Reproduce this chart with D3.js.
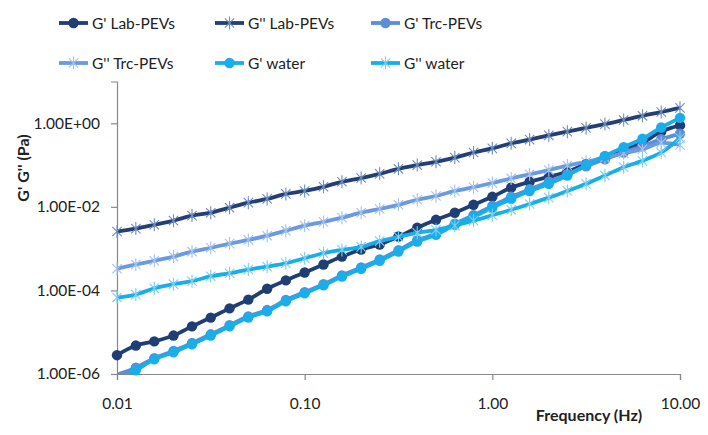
<!DOCTYPE html>
<html><head><meta charset="utf-8">
<script src="https://cdn.jsdelivr.net/npm/d3@7"></script>
<style>
html,body{margin:0;padding:0;background:#fff;}
svg{display:block;font-family:Lato,"Open Sans",sans-serif;}
</style></head>
<body>
<svg id="chart" width="708" height="435"></svg>
<script>
// Frequency (Hz)
const freq = [0.01,0.0126,0.0158,0.02,0.0251,0.0316,0.0398,0.0501,0.0631,0.0794,
  0.1,0.126,0.158,0.2,0.251,0.316,0.398,0.501,0.631,0.794,
  1,1.26,1.58,2,2.51,3.16,3.98,5.01,6.31,7.94,10];

const gpLab = [2.82e-6,4.79e-6,6.03e-6,8.32e-6,1.38e-5,2.24e-5,3.72e-5,6.03e-5,1.10e-4,1.74e-4,
  2.69e-4,4.17e-4,6.46e-4,9.55e-4,1.26e-3,1.95e-3,3.16e-3,4.90e-3,7.24e-3,1.12e-2,
  1.74e-2,2.88e-2,3.98e-2,5.25e-2,6.92e-2,1.07e-1,1.58e-1,2.40e-1,3.39e-1,6.31e-1,8.91e-1];
const gppLab = [2.57e-3,3.02e-3,3.72e-3,4.68e-3,6.17e-3,7.24e-3,9.55e-3,1.26e-2,1.55e-2,2.04e-2,
  2.40e-2,3.02e-2,3.98e-2,4.90e-2,6.17e-2,8.13e-2,1.00e-1,1.20e-1,1.51e-1,2.00e-1,
  2.51e-1,3.31e-1,4.07e-1,5.13e-1,6.31e-1,7.76e-1,9.55e-1,1.20,1.51,1.86,2.34];
const gpTrc = [9.55e-7,1.41e-6,2.40e-6,3.55e-6,5.50e-6,8.91e-6,1.48e-5,2.40e-5,3.39e-5,5.89e-5,
  9.12e-5,1.41e-4,2.29e-4,3.55e-4,5.50e-4,9.12e-4,1.58e-3,2.29e-3,3.98e-3,6.31e-3,
  1.05e-2,1.74e-2,2.63e-2,3.98e-2,6.03e-2,9.33e-2,1.38e-1,2.00e-1,2.82e-1,4.17e-1,5.62e-1];
const gppTrc = [3.31e-4,4.17e-4,5.13e-4,6.46e-4,8.51e-4,1.05e-3,1.32e-3,1.62e-3,2.04e-3,2.69e-3,
  3.55e-3,4.37e-3,5.50e-3,7.24e-3,8.91e-3,1.12e-2,1.48e-2,1.82e-2,2.40e-2,2.95e-2,
  3.72e-2,4.79e-2,6.03e-2,7.59e-2,9.77e-2,1.20e-1,1.51e-1,1.91e-1,2.40e-1,3.39e-1,3.02e-1];
const gpWater = [7.08e-7,1.23e-6,2.24e-6,3.31e-6,5.13e-6,8.32e-6,1.38e-5,2.24e-5,3.16e-5,5.50e-5,
  8.51e-5,1.32e-4,2.14e-4,3.31e-4,5.13e-4,8.51e-4,1.48e-3,2.14e-3,3.72e-3,5.75e-3,
  9.55e-3,1.55e-2,2.40e-2,3.55e-2,5.62e-2,1.00e-1,1.66e-1,2.69e-1,4.27e-1,7.94e-1,1.35];
const gppWater = [6.76e-5,7.94e-5,1.12e-4,1.41e-4,1.66e-4,2.19e-4,2.57e-4,3.16e-4,3.72e-4,4.47e-4,
  5.89e-4,7.76e-4,9.33e-4,1.10e-3,1.51e-3,1.91e-3,2.40e-3,2.82e-3,3.55e-3,4.68e-3,
  6.31e-3,8.51e-3,1.17e-2,1.66e-2,2.40e-2,3.55e-2,5.62e-2,8.91e-2,1.26e-1,2.00e-1,4.47e-1];

const seriesNames = ["G' Lab-PEVs","G'' Lab-PEVs","G' Trc-PEVs","G'' Trc-PEVs","G' water","G'' water"];
const seriesValues = [gpLab, gppLab, gpTrc, gppTrc, gpWater, gppWater];
const seriesColors = ["#1F3F74","#233F76","#5B8ED8","#6A9AE0","#17AEEA","#19AEE9"];
const markerColors = ["#1F3F74","#6F8DBD","#5B8ED8","#A3C2EE","#17AEEA","#7ACFF3"];
const markerTypes = ["circle","star","circle","star","circle","star"];

const xTicks = [0.01, 0.1, 1, 10];
const xTickLabels = ["0.01","0.10","1.00","10.00"];
const yTicks = [1e-6, 1e-4, 1e-2, 1];
const yTickLabels = ["1.00E-06","1.00E-04","1.00E-02","1.00E+00"];

(function(){
const svg = d3.select("#chart");
const pL = 117, pR = 680, pT = 81.5, pB = 374;
const x = d3.scaleLog().domain([0.01, 10]).range([pL, pR]);
const y = d3.scaleLog().domain([1e-6, 10]).range([pB, pT]);

svg.append("defs").append("clipPath").attr("id","plotclip")
  .append("rect").attr("x", pL).attr("y", pT).attr("width", pR-pL).attr("height", pB-pT);

// axes
const axisColor = "#888888";
const xAxis = d3.axisBottom(x).tickValues(xTicks).tickSize(6).tickFormat((d,i)=>xTickLabels[i]);
const gx = svg.append("g").attr("transform",`translate(0,${pB})`).call(xAxis);
const yAxis = d3.axisLeft(y).tickValues(yTicks).tickSize(6).tickFormat((d,i)=>yTickLabels[i]);
const gy = svg.append("g").attr("transform",`translate(${pL},0)`).call(yAxis);
[gx, gy].forEach(g => {
  g.select(".domain").attr("stroke", axisColor).attr("stroke-width", 1.2);
  g.selectAll(".tick line").attr("stroke", axisColor).attr("stroke-width", 1.2);
  g.selectAll(".tick text").attr("fill","#222").style("font-size","15.5px").style("font-family","Lato, 'Open Sans', sans-serif");
});
gx.selectAll(".tick text").attr("dy", "1.7em");
gy.selectAll(".tick text").attr("dx", "-8px");

// axis titles
svg.append("text").attr("x", 589).attr("y", 421).attr("text-anchor","middle")
  .style("font-size","16px").style("font-weight","bold").attr("fill","#222").text("Frequency (Hz)");
svg.append("text").attr("transform","translate(29,168) rotate(-90)").attr("text-anchor","middle")
  .style("font-size","16px").style("font-weight","bold").attr("fill","#222").text("G' G'' (Pa)");

// series
const line = d3.line().curve(d3.curveCatmullRom.alpha(0.5)).x(d=>x(d[0])).y(d=>y(d[1]));
const starPath = (cx, cy, r) => {
  const a = r*0.72;
  return `M${cx-a},${cy-a}L${cx+a},${cy+a}M${cx-a},${cy+a}L${cx+a},${cy-a}M${cx},${cy-r}L${cx},${cy+r}`;
};
const plot = svg.append("g");
seriesValues.forEach((vals, si) => {
  const pts = freq.map((f,i)=>[f, vals[i]]);
  const g = plot.append("g");
  g.append("path").attr("clip-path","url(#plotclip)").attr("d", line(pts))
    .attr("fill","none").attr("stroke", seriesColors[si]).attr("stroke-width", 3.8)
    .attr("stroke-linejoin","round");
  const vis = pts.filter(p => p[1] >= 1e-6 && p[1] <= 10);
  if (markerTypes[si] === "circle") {
    g.selectAll("circle").data(vis).join("circle")
      .attr("cx", d=>x(d[0])).attr("cy", d=>y(d[1])).attr("r", 5.2)
      .attr("fill", markerColors[si]);
  } else {
    g.selectAll("path.star").data(vis).join("path").attr("class","star")
      .attr("d", d=>starPath(x(d[0]), y(d[1]), 6.5))
      .attr("stroke", markerColors[si]).attr("stroke-width", 1.1).attr("fill","none");
  }
});

// legend
const legendCols = [59, 215, 371];
const legendRows = [23, 63];
seriesNames.forEach((name, si) => {
  const cx0 = legendCols[si % 3], cy0 = legendRows[Math.floor(si/3)];
  const lg = svg.append("g");
  lg.append("line").attr("x1", cx0).attr("x2", cx0+29).attr("y1", cy0).attr("y2", cy0)
    .attr("stroke", seriesColors[si]).attr("stroke-width", 3.8);
  if (markerTypes[si] === "circle") {
    lg.append("circle").attr("cx", cx0+14.5).attr("cy", cy0).attr("r", 5.2).attr("fill", markerColors[si]);
  } else {
    lg.append("path").attr("d", starPath(cx0+14.5, cy0, 6.5)).attr("stroke", markerColors[si])
      .attr("stroke-width", 1.1).attr("fill","none");
  }
  lg.append("text").attr("x", cx0+33).attr("y", cy0+5.5).style("font-size","15.5px")
    .attr("fill","#222").text(name);
});
})();
</script>
</body></html>
